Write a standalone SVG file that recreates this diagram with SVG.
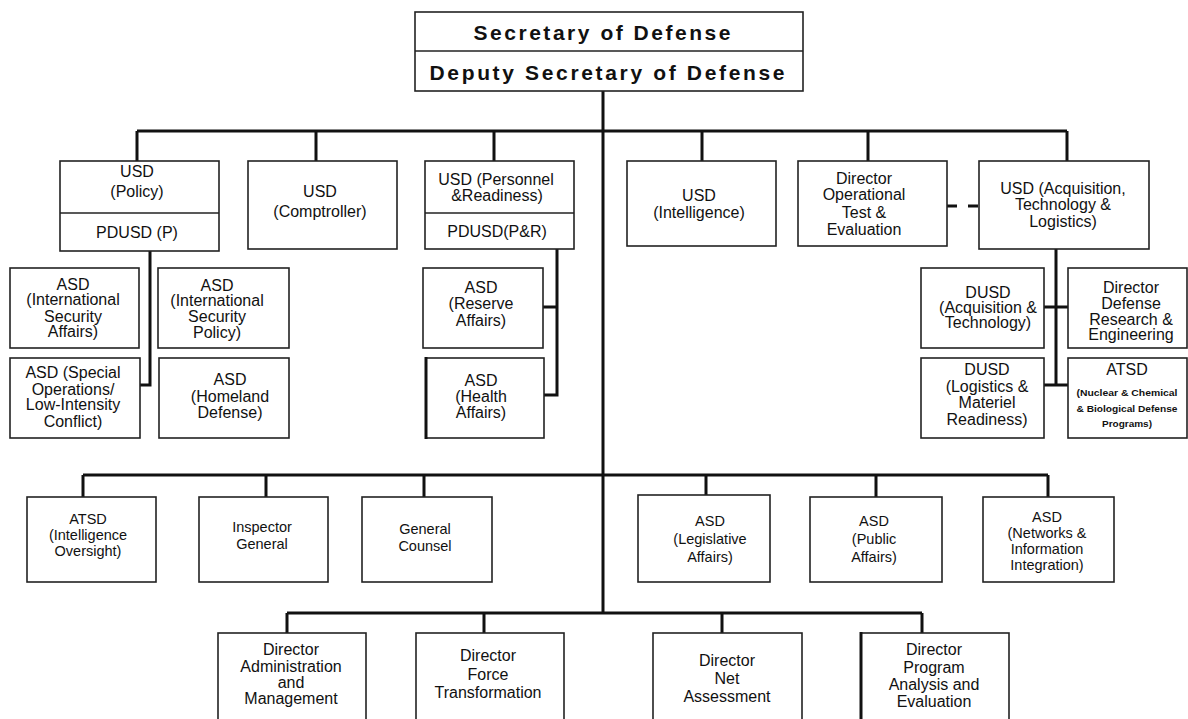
<svg xmlns="http://www.w3.org/2000/svg" width="1188" height="719" viewBox="0 0 1188 719">
<style>
.bx{fill:#fff;stroke:#222;stroke-width:1.6}
.t{font-family:"Liberation Sans",Arial,sans-serif;font-size:16px;fill:#111;text-anchor:middle}
.s{font-size:14.5px}
.hd{font-family:"Liberation Sans",Arial,sans-serif;font-size:21px;font-weight:bold;fill:#111;text-anchor:middle}
.sm{font-family:"Liberation Sans",Arial,sans-serif;font-size:9.5px;font-weight:bold;fill:#111;text-anchor:middle}
.c{fill:none;stroke:#111;stroke-width:3}
</style>
<rect width="1188" height="719" fill="#fff"/>
<g id="connectors">
<path class="c" d="M603 91V613"/>
<path class="c" d="M137 131H1067M137 131V161M316 131V161M494 131V161M702 131V161M868 131V161M1067 131V161"/>
<path class="c" d="M150 251V385H140"/>
<path class="c" d="M557 249V395H544M543 307H557"/>
<path class="c" d="M1056 249V385M1044 307H1068M1044 385H1068"/>
<path class="c" d="M947 206H979" stroke-dasharray="10 11"/>
<path class="c" d="M83 475H1048M83 475V497M266 475V497M424 475V497M706 475V495M876 475V497M1048 475V497"/>
<path class="c" d="M287 613H922M287 613V633M484 613V633M722 613V633M922 613V633"/>
</g>
<g id="secdef">
<rect class="bx" x="415" y="12" width="388" height="79" stroke-width="2"/>
<line x1="415" y1="51" x2="803" y2="51" stroke="#222" stroke-width="1.6"/>
<text class="hd" x="602" y="40" textLength="257" lengthAdjust="spacing">Secretary of Defense</text>
<text class="hd" x="607" y="80" textLength="355" lengthAdjust="spacing">Deputy Secretary of Defense</text>
</g>
<g id="usd-policy">
<rect class="bx" x="60" y="161" width="159" height="90"/>
<line x1="60" y1="213" x2="219" y2="213" stroke="#222" stroke-width="1.6"/>
<text class="t" x="137" y="177">USD</text>
<text class="t" x="137" y="197">(Policy)</text>
<text class="t" x="137" y="238">PDUSD (P)</text>
</g>
<g id="usd-comptroller">
<rect class="bx" x="248" y="161" width="149" height="88"/>
<text class="t" x="320" y="197">USD</text>
<text class="t" x="320" y="217">(Comptroller)</text>
</g>
<g id="usd-pr">
<rect class="bx" x="425" y="161" width="149" height="88"/>
<line x1="425" y1="213" x2="574" y2="213" stroke="#222" stroke-width="1.6"/>
<text class="t" x="496" y="185">USD (Personnel</text>
<text class="t" x="497" y="201">&amp;Readiness)</text>
<text class="t" x="497" y="237">PDUSD(P&amp;R)</text>
</g>
<g id="usd-intel">
<rect class="bx" x="627" y="161" width="149" height="85"/>
<text class="t" x="699" y="201">USD</text>
<text class="t" x="699" y="218">(Intelligence)</text>
</g>
<g id="dir-ote">
<rect class="bx" x="798" y="161" width="149" height="85"/>
<text class="t" x="864" y="184">Director</text>
<text class="t" x="864" y="200">Operational</text>
<text class="t" x="864" y="218">Test &amp;</text>
<text class="t" x="864" y="235">Evaluation</text>
</g>
<g id="usd-atl">
<rect class="bx" x="979" y="161" width="170" height="88"/>
<text class="t" x="1063" y="194">USD (Acquisition,</text>
<text class="t" x="1063" y="210">Technology &amp;</text>
<text class="t" x="1063" y="227">Logistics)</text>
</g>
<g id="asd-isa">
<rect class="bx" x="10" y="268" width="129" height="80"/>
<text class="t" x="73" y="290">ASD</text>
<text class="t" x="73" y="305">(International</text>
<text class="t" x="73" y="322">Security</text>
<text class="t" x="73" y="337">Affairs)</text>
</g>
<g id="asd-isp">
<rect class="bx" x="158" y="268" width="131" height="80"/>
<text class="t" x="217" y="291">ASD</text>
<text class="t" x="217" y="306">(International</text>
<text class="t" x="217" y="322">Security</text>
<text class="t" x="217" y="338">Policy)</text>
</g>
<g id="asd-solic">
<rect class="bx" x="10" y="358" width="130" height="80"/>
<text class="t" x="73" y="378">ASD (Special</text>
<text class="t" x="73" y="395">Operations/</text>
<text class="t" x="73" y="410">Low-Intensity</text>
<text class="t" x="73" y="427">Conflict)</text>
</g>
<g id="asd-hd">
<rect class="bx" x="159" y="358" width="130" height="80"/>
<text class="t" x="230" y="385">ASD</text>
<text class="t" x="230" y="402">(Homeland</text>
<text class="t" x="230" y="418">Defense)</text>
</g>
<g id="asd-ra">
<rect class="bx" x="423" y="268" width="120" height="80"/>
<text class="t" x="481" y="293">ASD</text>
<text class="t" x="481" y="309">(Reserve</text>
<text class="t" x="481" y="326">Affairs)</text>
</g>
<g id="asd-ha">
<rect class="bx" x="426" y="358" width="118" height="80"/>
<line x1="426" y1="357" x2="426" y2="439" stroke="#111" stroke-width="3"/>
<text class="t" x="481" y="386">ASD</text>
<text class="t" x="481" y="402">(Health</text>
<text class="t" x="481" y="418">Affairs)</text>
</g>
<g id="dusd-at">
<rect class="bx" x="921" y="268" width="123" height="80"/>
<text class="t" x="988" y="298">DUSD</text>
<text class="t" x="988" y="313">(Acquisition &amp;</text>
<text class="t" x="988" y="328">Technology)</text>
</g>
<g id="dir-ddre">
<rect class="bx" x="1068" y="268" width="119" height="80"/>
<text class="t" x="1131" y="293">Director</text>
<text class="t" x="1131" y="309">Defense</text>
<text class="t" x="1131" y="325">Research &amp;</text>
<text class="t" x="1131" y="340">Engineering</text>
</g>
<g id="dusd-lmr">
<rect class="bx" x="921" y="358" width="123" height="80"/>
<text class="t" x="987" y="375">DUSD</text>
<text class="t" x="987" y="392">(Logistics &amp;</text>
<text class="t" x="987" y="408">Materiel</text>
<text class="t" x="987" y="425">Readiness)</text>
</g>
<g id="atsd-ncb">
<rect class="bx" x="1068" y="358" width="119" height="80"/>
<text class="t" x="1127" y="375">ATSD</text>
<text class="sm" x="1127" y="396" textLength="101" lengthAdjust="spacingAndGlyphs">(Nuclear &amp; Chemical</text>
<text class="sm" x="1127" y="412" textLength="101" lengthAdjust="spacingAndGlyphs">&amp; Biological Defense</text>
<text class="sm" x="1127" y="427" textLength="50" lengthAdjust="spacingAndGlyphs">Programs)</text>
</g>
<g id="atsd-io">
<rect class="bx" x="27" y="497" width="129" height="85"/>
<text class="t s" x="88" y="524">ATSD</text>
<text class="t s" x="88" y="540">(Intelligence</text>
<text class="t s" x="88" y="556">Oversight)</text>
</g>
<g id="ig">
<rect class="bx" x="199" y="497" width="129" height="85"/>
<text class="t s" x="262" y="532">Inspector</text>
<text class="t s" x="262" y="549">General</text>
</g>
<g id="gc">
<rect class="bx" x="362" y="497" width="130" height="85"/>
<text class="t s" x="425" y="534">General</text>
<text class="t s" x="425" y="551">Counsel</text>
</g>
<g id="asd-la">
<rect class="bx" x="638" y="495" width="132" height="87" stroke-width="2.6"/>
<text class="t s" x="710" y="526">ASD</text>
<text class="t s" x="710" y="544">(Legislative</text>
<text class="t s" x="710" y="562">Affairs)</text>
</g>
<g id="asd-pa">
<rect class="bx" x="810" y="497" width="132" height="85"/>
<text class="t s" x="874" y="526">ASD</text>
<text class="t s" x="874" y="544">(Public</text>
<text class="t s" x="874" y="562">Affairs)</text>
</g>
<g id="asd-nii">
<rect class="bx" x="983" y="497" width="131" height="85"/>
<text class="t s" x="1047" y="522">ASD</text>
<text class="t s" x="1047" y="538">(Networks &amp;</text>
<text class="t s" x="1047" y="554">Information</text>
<text class="t s" x="1047" y="570">Integration)</text>
</g>
<g id="dir-am">
<rect class="bx" x="218" y="633" width="148" height="95"/>
<text class="t" x="291" y="655">Director</text>
<text class="t" x="291" y="672">Administration</text>
<text class="t" x="291" y="688">and</text>
<text class="t" x="291" y="704">Management</text>
</g>
<g id="dir-ft">
<rect class="bx" x="416" y="633" width="148" height="95"/>
<text class="t" x="488" y="661">Director</text>
<text class="t" x="488" y="680">Force</text>
<text class="t" x="488" y="698">Transformation</text>
</g>
<g id="dir-na">
<rect class="bx" x="653" y="633" width="149" height="95"/>
<text class="t" x="727" y="666">Director</text>
<text class="t" x="727" y="684">Net</text>
<text class="t" x="727" y="702">Assessment</text>
</g>
<g id="dir-pae">
<rect class="bx" x="861" y="633" width="148" height="95"/>
<line x1="861" y1="632" x2="861" y2="719" stroke="#111" stroke-width="3"/>
<text class="t" x="934" y="655">Director</text>
<text class="t" x="934" y="673">Program</text>
<text class="t" x="934" y="690">Analysis and</text>
<text class="t" x="934" y="707">Evaluation</text>
</g>
</svg>
